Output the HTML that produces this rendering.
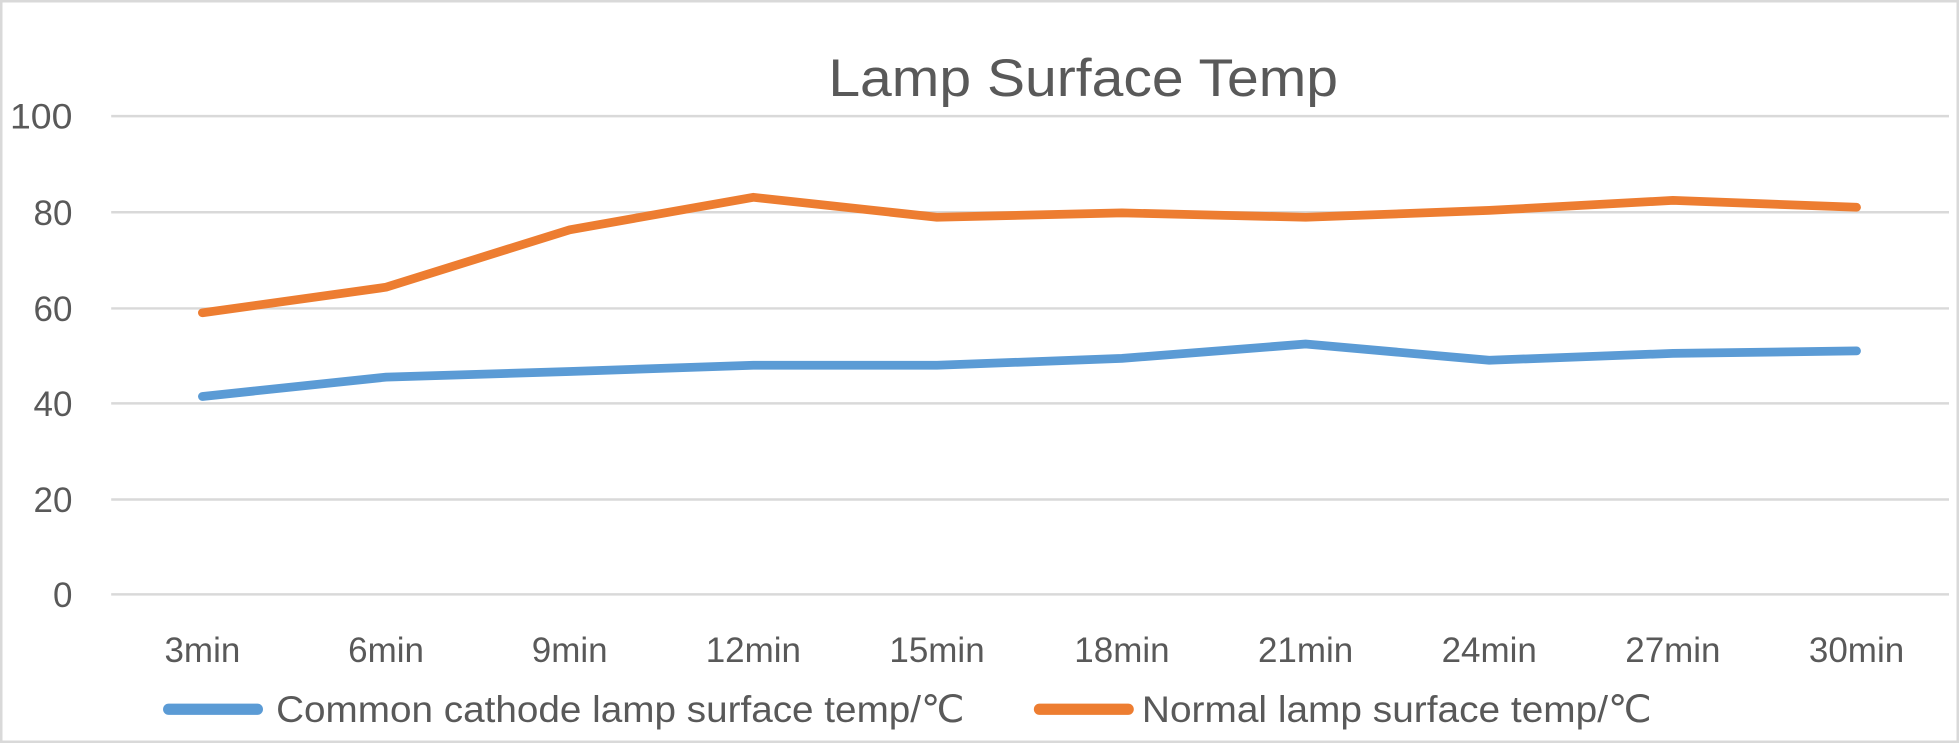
<!DOCTYPE html>
<html><head><meta charset="utf-8"><style>html,body{margin:0;padding:0;background:#fff}svg{display:block}</style></head>
<body>
<svg width="1959" height="743" viewBox="0 0 1568 595" preserveAspectRatio="none" xmlns="http://www.w3.org/2000/svg" font-family="Liberation Sans, sans-serif" fill="#595959">
<rect x="1" y="1" width="1566" height="593" fill="#fff" stroke="#d9d9d9" stroke-width="2"/>
<text x="867" y="77" font-size="42" text-anchor="middle" textLength="408" lengthAdjust="spacingAndGlyphs">Lamp Surface Temp</text>
<g stroke="#d9d9d9" stroke-width="2">
<line x1="89" x2="1560" y1="93" y2="93"/><line x1="89" x2="1560" y1="170" y2="170"/><line x1="89" x2="1560" y1="247" y2="247"/><line x1="89" x2="1560" y1="323" y2="323"/><line x1="89" x2="1560" y1="400" y2="400"/><line x1="89" x2="1560" y1="476" y2="476"/>
</g>
<g font-size="28" text-anchor="end">
<text x="58" y="103" textLength="50" lengthAdjust="spacingAndGlyphs">100</text><text x="58" y="180">80</text><text x="58" y="257">60</text><text x="58" y="333">40</text><text x="58" y="410">20</text><text x="58" y="486">0</text>
</g>
<g font-size="28" text-anchor="middle">
<text x="162" y="530">3min</text><text x="309" y="530">6min</text><text x="456" y="530">9min</text><text x="603" y="530">12min</text><text x="750" y="530">15min</text><text x="898" y="530">18min</text><text x="1045" y="530">21min</text><text x="1192" y="530">24min</text><text x="1339" y="530">27min</text><text x="1486" y="530">30min</text>
</g>
<polyline fill="none" stroke="#ed7d31" stroke-width="7" stroke-linejoin="round" stroke-linecap="round" points="162,250.5 309,230 456,184 603,158 750,174 898,170.5 1045,174 1192,168.5 1339,160.5 1486,166"/>
<polyline fill="none" stroke="#5b9bd5" stroke-width="7" stroke-linejoin="round" stroke-linecap="round" points="162,317.5 309,302 456,297.5 603,292.5 750,292.5 898,287 1045,275.5 1192,288.5 1339,283 1486,281"/>
<line x1="135" x2="206" y1="568" y2="568" stroke="#5b9bd5" stroke-width="9" stroke-linecap="round"/>
<text x="221" y="578" font-size="30" textLength="551" lengthAdjust="spacingAndGlyphs">Common cathode lamp surface temp/℃</text>
<line x1="832" x2="903" y1="568" y2="568" stroke="#ed7d31" stroke-width="9" stroke-linecap="round"/>
<text x="914" y="578" font-size="30" textLength="408" lengthAdjust="spacingAndGlyphs">Normal lamp surface temp/℃</text>
</svg>
</body></html>
